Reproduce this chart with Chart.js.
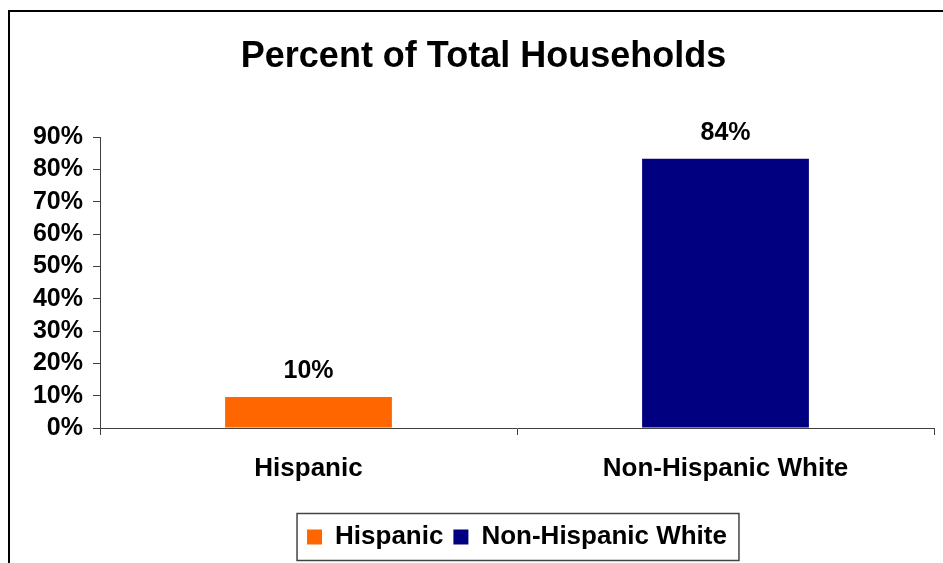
<!DOCTYPE html>
<html>
<head>
<meta charset="utf-8">
<script src="https://cdn.jsdelivr.net/npm/chart.js@4.4.1/dist/chart.umd.min.js"></script>
<style>
  html, body { margin: 0; padding: 0; background: #fff; }
</style>
</head>
<body>
<canvas id="households" width="943" height="563"></canvas>
<script>
const categories = ["Hispanic", "Non-Hispanic White"];
const hispanicValues = [9.6, null];
const whiteValues = [null, 83.3];
const valueLabels = ["10%", "84%"];
const yMax = 90;
const yStep = 10;

const FONT = "'Liberation Sans', Arial, sans-serif";

// outer frame of the original chart object
const framePlugin = {
  id: 'frame',
  beforeDraw(chart) {
    const ctx = chart.ctx;
    ctx.save();
    ctx.fillStyle = '#fff';
    ctx.fillRect(0, 0, chart.width, chart.height);
    ctx.strokeStyle = '#000';
    ctx.lineWidth = 2;
    ctx.beginPath();
    ctx.moveTo(9, chart.height);
    ctx.lineTo(9, 11);
    ctx.lineTo(chart.width, 11);
    ctx.stroke();
    ctx.restore();
  }
};

// value labels above the bars
const valueLabelPlugin = {
  id: 'valueLabels',
  afterDatasetsDraw(chart) {
    const ctx = chart.ctx;
    ctx.save();
    ctx.font = 'bold 25px ' + FONT;
    ctx.fillStyle = '#000';
    ctx.textAlign = 'center';
    ctx.textBaseline = 'alphabetic';
    chart.data.datasets.forEach((ds, i) => {
      chart.getDatasetMeta(i).data.forEach((bar, j) => {
        if (ds.data[j] == null) return;
        ctx.fillText(valueLabels[j], bar.x, bar.y - 19);
      });
    });
    ctx.restore();
  }
};

// box round the legend
const legendBoxPlugin = {
  id: 'legendBox',
  afterDraw(chart) {
    const boxes = chart.legend.legendHitBoxes;
    if (!boxes || !boxes.length) return;
    const left = Math.min(...boxes.map(b => b.left)) - 10;
    const right = Math.max(...boxes.map(b => b.left + b.width)) + 12;
    const mid = boxes[0].top + boxes[0].height / 2;
    const ctx = chart.ctx;
    ctx.save();
    ctx.strokeStyle = '#444';
    ctx.lineWidth = 1.5;
    ctx.strokeRect(left, mid - 23.5, right - left, 47);
    ctx.restore();
  }
};

new Chart(document.getElementById('households').getContext('2d'), {
  type: 'bar',
  data: {
    labels: categories,
    datasets: [
      { label: categories[0], data: hispanicValues, backgroundColor: '#FF6600' },
      { label: categories[1], data: whiteValues, backgroundColor: '#000080' }
    ]
  },
  options: {
    responsive: false,
    animation: false,
    devicePixelRatio: 1,
    grouped: false,
    categoryPercentage: 1,
    barPercentage: 0.4,
    layout: { padding: { left: 33, right: 9, top: 0, bottom: 3 } },
    scales: {
      x: {
        offset: true,
        grid: { offset: true, drawOnChartArea: false, drawTicks: true, tickLength: 7, color: '#404040' },
        border: { display: true, color: '#404040', width: 1 },
        ticks: { font: { family: FONT, size: 26, weight: 'bold' }, color: '#000', padding: 18, maxRotation: 0 },
        afterFit(scale) { scale.height = 86; }
      },
      y: {
        min: 0,
        max: yMax,
        grid: { drawOnChartArea: false, drawTicks: true, tickLength: 7, color: '#404040' },
        border: { display: true, color: '#404040', width: 1 },
        ticks: {
          stepSize: yStep,
          autoSkip: false,
          font: { family: FONT, size: 25, weight: 'bold' },
          color: '#000',
          padding: 10,
          callback: v => v + '%'
        },
        afterFit(scale) { scale.width = 67; }
      }
    },
    plugins: {
      title: {
        display: true,
        text: 'Percent of Total Households',
        font: { family: FONT, size: 36, weight: 'bold' },
        color: '#000',
        padding: { top: 35, bottom: 59 }
      },
      legend: {
        position: 'bottom',
        fullSize: false,
        labels: {
          boxWidth: 15,
          boxHeight: 15,
          padding: 10,
          font: { family: FONT, size: 26, weight: 'bold' },
          color: '#000'
        }
      },
      tooltip: { enabled: false }
    }
  },
  plugins: [framePlugin, valueLabelPlugin, legendBoxPlugin]
});
</script>
</body>
</html>
